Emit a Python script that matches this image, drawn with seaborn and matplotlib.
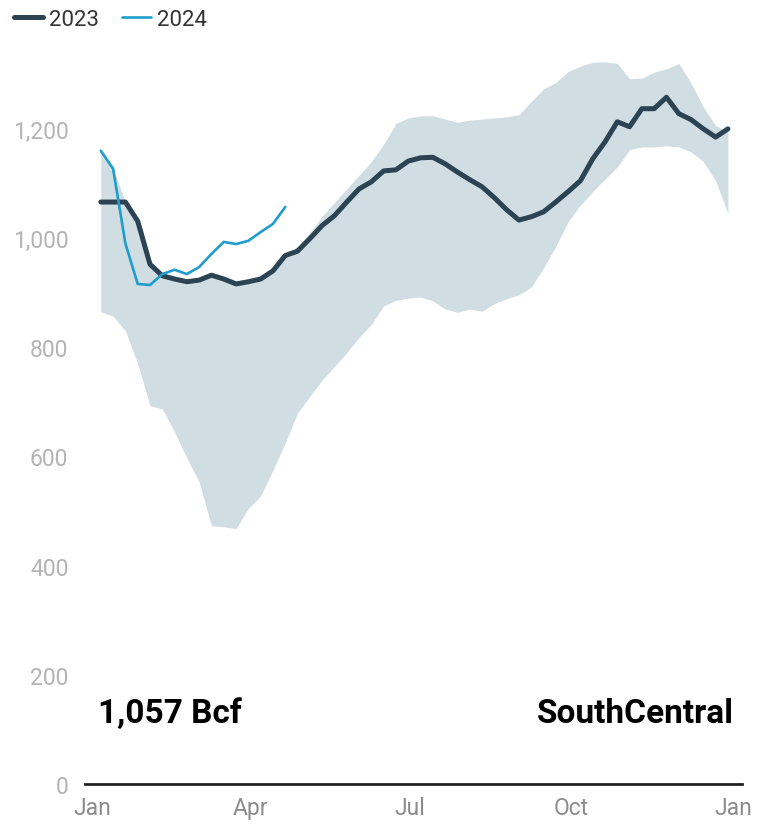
import pandas as pd
import matplotlib
matplotlib.use("Agg")
import matplotlib.pyplot as plt
import seaborn as sns

# weekly storage, Bcf (South Central region)
weeks = pd.date_range("2023-01-06", periods=52, freq="7D")

storage_2023 = [1066, 1066, 1066, 1031, 952, 931, 925, 920, 923, 932,
                925, 916, 920, 925, 940, 968, 976, 999, 1023, 1041,
                1066, 1090, 1103, 1123, 1125, 1141, 1147, 1148, 1136, 1121,
                1107, 1094, 1074, 1052, 1033, 1039, 1048, 1066, 1085, 1105,
                1145, 1176, 1213, 1204, 1237, 1237, 1258, 1228, 1217, 1200,
                1185, 1200]

storage_2024 = [1160, 1127, 990, 916, 914, 934, 942, 934, 947, 971,
                993, 989, 995, 1011, 1026, 1057]

range_max = [1160, 1127, 1066, 1031, 956, 931, 925, 920, 923, 932,
             925, 916, 920, 925, 940, 970, 985, 1010, 1040, 1065,
             1090, 1115, 1140, 1172, 1210, 1220, 1224, 1224, 1218, 1212,
             1216, 1218, 1220, 1222, 1226, 1250, 1273, 1285, 1305, 1315,
             1322, 1323, 1320, 1292, 1293, 1304, 1310, 1320, 1284, 1240,
             1206, 1195]

range_min = [865, 857, 830, 770, 693, 687, 645, 597, 553, 473,
             471, 468, 505, 528, 575, 625, 680, 710, 740, 765,
             790, 818, 842, 876, 886, 890, 892, 885, 870, 864,
             870, 866, 880, 889, 896, 910, 945, 985, 1030, 1060,
             1085, 1108, 1130, 1162, 1167, 1167, 1169, 1167, 1158, 1140,
             1105, 1045]

y_ticks = [0, 200, 400, 600, 800, 1000, 1200]
month_ticks = ["2023-01-01", "2023-04-01", "2023-07-01", "2023-10-01", "2024-01-01"]
month_labels = ["Jan", "Apr", "Jul", "Oct", "Jan"]

DARK = "#2b4352"
BLUE = "#1f9dcc"
BAND = "#d0dde3"

sns.set_style("white")
plt.rcParams["font.family"] = ["Roboto", "DejaVu Sans"]

fig = plt.figure(figsize=(7.66, 8.28), dpi=100)
ax = fig.add_axes([85 / 766, 43 / 828, 657 / 766, 737 / 828])

df23 = pd.DataFrame({"week": weeks, "bcf": storage_2023})
df24 = pd.DataFrame({"week": weeks[:len(storage_2024)], "bcf": storage_2024})

ax.fill_between(weeks, range_min, range_max, color=BAND, linewidth=0, zorder=1)
sns.lineplot(data=df23, x="week", y="bcf", ax=ax, color=DARK, linewidth=3.6,
             label="2023", zorder=3)
sns.lineplot(data=df24, x="week", y="bcf", ax=ax, color=BLUE, linewidth=1.9,
             label="2024", zorder=4)

ax.set_xlim(pd.Timestamp("2022-12-28"), pd.Timestamp("2024-01-06"))
ax.set_ylim(0, 1350)
ax.set_xticks(pd.to_datetime(month_ticks))
ax.set_xticklabels(month_labels)
ax.set_yticks(y_ticks)
ax.set_yticklabels([f"{v:,}" for v in y_ticks])
ax.set_xlabel("")
ax.set_ylabel("")

ax.tick_params(axis="y", length=0, pad=12, labelsize=16.5, labelcolor="#b4b4b4")
ax.tick_params(axis="x", length=0, pad=9, labelsize=16.5, labelcolor="#8c8c8c")
for side in ["left", "right", "top"]:
    ax.spines[side].set_visible(False)
ax.spines["bottom"].set_color("#222222")
ax.spines["bottom"].set_linewidth(2.0)
ax.grid(False)

handles, labels = ax.get_legend_handles_labels()
ax.legend_.remove()
fig.legend(handles, labels, loc="upper left", bbox_to_anchor=(-0.008, 1.012),
           ncol=2, frameon=False, fontsize=16, handlelength=1.3,
           handletextpad=0.3, columnspacing=1.0, labelcolor="#333333")

fig.text(98 / 766, 1 - 714 / 828, "1,057 Bcf", fontsize=24, fontweight="bold",
         ha="left", va="center", color="black")
fig.text(734 / 766, 1 - 714 / 828, "SouthCentral", fontsize=24, fontweight="bold",
         ha="right", va="center", color="black")

fig.savefig("out.png", dpi=100)
